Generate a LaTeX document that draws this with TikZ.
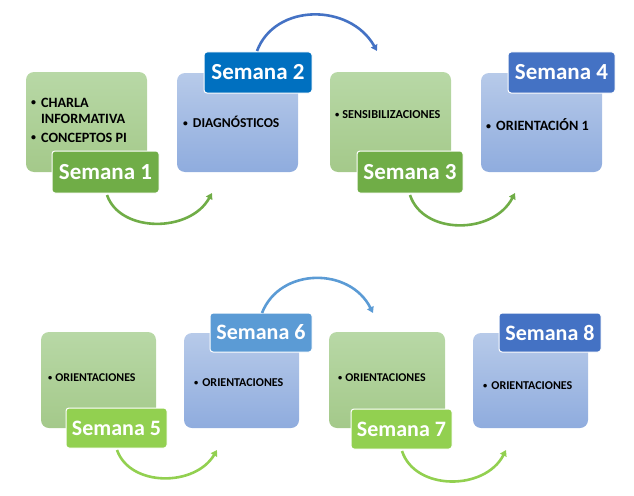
\documentclass[tikz,border=0pt]{standalone}
\usepackage{fontspec}
\setmainfont{Carlito}
\usetikzlibrary{arrows.meta}
\definecolor{gDark}{RGB}{112,173,71}
\definecolor{gLight}{RGB}{146,208,80}
\definecolor{bBright}{RGB}{0,112,192}
\definecolor{bMid}{RGB}{68,114,196}
\definecolor{bSky}{RGB}{91,155,213}
\definecolor{gBoxTop}{RGB}{184,216,166}
\definecolor{gBoxBot}{RGB}{164,201,138}
\definecolor{bBoxTop}{RGB}{183,202,233}
\definecolor{bBoxBot}{RGB}{143,172,222}
\newcommand{\blt}{\raisebox{0.12em}{\scalebox{0.7}{\textbullet}}}
\tikzset{
  box/.style={rounded corners=8pt, inner sep=0pt},
  gbox/.style={box, top color=gBoxTop, bottom color=gBoxBot},
  bbox/.style={box, top color=bBoxTop, bottom color=bBoxBot},
  lab/.style={draw=white, line width=1pt, rounded corners=3pt, inner sep=0pt,
    text=white, font=\bfseries\fontsize{23}{23}\selectfont},
  labs/.style={lab, font=\bfseries\fontsize{22}{22}\selectfont},
  item/.style={anchor=west, inner sep=0pt, align=left, text=black},
  flow/.style={line width=2.6pt, -{Triangle[length=6pt,width=7pt]}},
}
\begin{document}
\begin{tikzpicture}[x=1pt,y=-1pt]
\useasboundingbox (0,0) rectangle (634,495);
% top row boxes
\node[gbox, minimum width=121pt, minimum height=100pt] (b1) at (86.5,122) {};
\node[bbox, minimum width=121pt, minimum height=99pt] (b2) at (237.5,122.5) {};
\node[gbox, minimum width=121pt, minimum height=100pt] (b3) at (390.5,122) {};
\node[bbox, minimum width=121pt, minimum height=99pt] (b4) at (541.5,122.5) {};
% bottom row boxes
\node[gbox, minimum width=115pt, minimum height=96pt] (b5) at (98.5,380) {};
\node[bbox, minimum width=115pt, minimum height=95pt] (b6) at (241.5,380.5) {};
\node[gbox, minimum width=116pt, minimum height=96pt] (b7) at (387,380) {};
\node[bbox, minimum width=115pt, minimum height=95pt] (b8) at (530.5,380.5) {};
% box texts
\node[item, font=\bfseries\fontsize{14.2}{15.5}\selectfont] (t1) at (31,122)
  {\begin{tabular}{@{}l@{\hspace{5pt}}l@{}}\blt & CHARLA\\ & INFORMATIVA\\[4pt] \blt & CONCEPTOS PI\end{tabular}};
\node[item, font=\bfseries\fontsize{13.6}{15}\selectfont] (t2) at (183,122) {\blt\hspace{5pt}DIAGNÓSTICOS};
\node[item, font=\bfseries\fontsize{12.2}{15}\selectfont] (t3) at (335,115) {\blt\hspace{3pt}SENSIBILIZACIONES};
\node[item, font=\bfseries\fontsize{14.2}{15}\selectfont] (t4) at (486,125) {\blt\hspace{5pt}ORIENTACIÓN 1};
\node[item, font=\bfseries\fontsize{11.9}{15}\selectfont] (t5) at (48,378) {\blt\hspace{3pt}ORIENTACIONES};
\node[item, font=\bfseries\fontsize{12}{15}\selectfont] (t6) at (194,383) {\blt\hspace{4pt}ORIENTACIONES};
\node[item, font=\bfseries\fontsize{11.9}{15}\selectfont] (t7) at (338,378) {\blt\hspace{3pt}ORIENTACIONES};
\node[item, font=\bfseries\fontsize{12}{15}\selectfont] (t8) at (483,386) {\blt\hspace{4pt}ORIENTACIONES};
% labels
\node[lab, fill=gDark, minimum width=107pt, minimum height=42pt] (l1) at (105.5,172) {Semana 1};
\node[lab, fill=bBright, minimum width=108pt, minimum height=41pt] (l2) at (258,72.5) {Semana 2};
\node[lab, fill=gDark, minimum width=106pt, minimum height=42pt] (l3) at (410,172) {Semana 3};
\node[lab, fill=bMid, minimum width=107pt, minimum height=41pt] (l4) at (561.5,72.5) {Semana 4};
\node[labs, fill=gLight, minimum width=101pt, minimum height=40pt] (l5) at (116.5,428) {Semana 5};
\node[labs, fill=bSky, minimum width=102pt, minimum height=39pt] (l6) at (261,332.5) {Semana 6};
\node[labs, fill=gLight, minimum width=101pt, minimum height=40pt] (l7) at (401.5,429) {Semana 7};
\node[labs, fill=bMid, minimum width=102pt, minimum height=39pt] (l8) at (550,332.5) {Semana 8};
% connector ends
\coordinate (a1s) at (107,195); \coordinate (a1e) at (212,193);
\coordinate (a2s) at (257,51);  \coordinate (a2e) at (377,51);
\coordinate (a3s) at (410,195); \coordinate (a3e) at (515,193);
\coordinate (a5s) at (117,450); \coordinate (a5e) at (217,450);
\coordinate (a6s) at (262,313); \coordinate (a6e) at (373,313);
\coordinate (a7s) at (402,451); \coordinate (a7e) at (506,450);
% connectors
\draw[flow, gDark] (a1s) .. controls (120,233) and (190,233) .. (a1e);
\draw[flow, bMid] (a2s) .. controls (275,3) and (350,3) .. (a2e);
\draw[flow, gDark] (a3s) .. controls (423,235) and (493,235) .. (a3e);
\draw[flow, gLight] (a5s) .. controls (130,487) and (195,487) .. (a5e);
\draw[flow, bSky] (a6s) .. controls (280,267) and (350,267) .. (a6e);
\draw[flow, gLight] (a7s) .. controls (415,491) and (485,491) .. (a7e);
\end{tikzpicture}
\end{document}
